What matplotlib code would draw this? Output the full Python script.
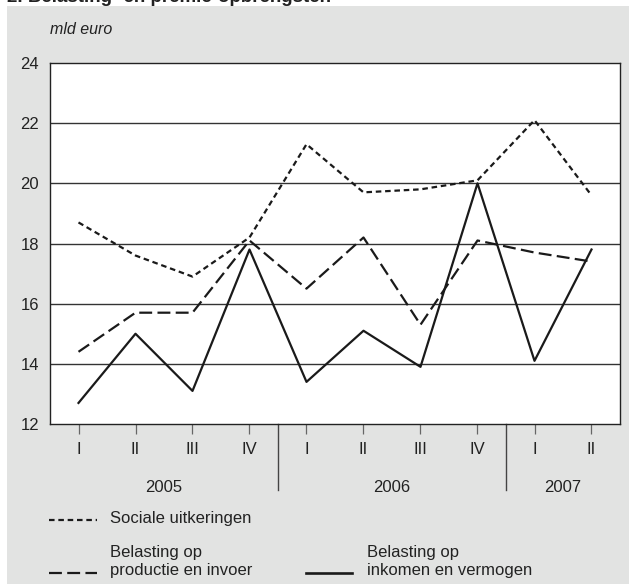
import numpy as np
import matplotlib.pyplot as plt
from matplotlib.lines import Line2D

plt.rcParams['font.family'] = ['Liberation Sans', 'DejaVu Sans']

# data (mld euro, per quarter)
quarters = ["I", "II", "III", "IV", "I", "II", "III", "IV", "I", "II"]
years = ["2005", "2006", "2007"]
year_counts = [4, 4, 2]
sociale = [18.7, 17.6, 16.9, 18.2, 21.3, 19.7, 19.8, 20.1, 22.1, 19.6]
productie = [14.4, 15.7, 15.7, 18.1, 16.5, 18.2, 15.3, 18.1, 17.7, 17.4]
inkomen = [12.7, 15.0, 13.1, 17.8, 13.4, 15.1, 13.9, 20.0, 14.1, 17.8]

W, H = 629, 584
fig = plt.figure(figsize=(W / 100, H / 100), dpi=100)
fig.patch.set_facecolor("white")

def fx(px):
    return px / W

def fy(py):
    return 1 - py / H

LW = 1.6
SHORT = (2.5, 1.7)
LONG = (5.8, 2.4)
lc = "#1a1a1a"
tc = "#222222"

# grey panel
fig.patches.append(plt.Rectangle((fx(7), 0), 1, fy(6), transform=fig.transFigure,
                                 facecolor="#e2e3e2", edgecolor="none", zorder=-5))
fig.text(fx(7), fy(2.5), "2. Belasting- en premie-opbrengsten", fontsize=13.5,
         fontweight="bold", va="baseline", ha="left", color=tc)

ax = fig.add_axes([fx(50), fy(424), fx(620) - fx(50), fy(63) - fy(424)])
ax.set_facecolor("white")
x = np.arange(len(quarters)) + 0.5

ax.plot(x, sociale, color=lc, lw=LW, dashes=SHORT, zorder=3)
ax.plot(x, productie, color=lc, lw=LW, dashes=LONG, zorder=3)
ax.plot(x, inkomen, color=lc, lw=LW, zorder=3)

ax.set_xlim(0, len(quarters))
ax.set_ylim(12, 24)
ax.set_yticks(range(12, 25, 2))
for yv in range(14, 24, 2):
    ax.axhline(yv, color="#333333", lw=1.0, zorder=1)
for s in ax.spines.values():
    s.set_color(tc)
    s.set_linewidth(1.0)
ax.tick_params(axis="y", length=0, labelsize=12, pad=8, colors=tc)
ax.set_xticks(x)
ax.set_xticklabels(quarters)
ax.tick_params(axis="x", length=7, width=0.9, color="#666666", labelsize=12,
               pad=6, labelcolor=tc)

# year separators and labels
trans = ax.get_xaxis_transform()
edges = np.cumsum(year_counts)
start = 0
for yr, end in zip(years, edges):
    if end < len(quarters):
        ax.add_line(Line2D([end, end], [0, -0.183], transform=trans, color="#444444",
                           lw=1.0, clip_on=False))
    ax.text((start + end) / 2, -0.175, yr, transform=trans, ha="center", va="center",
            fontsize=12, color=tc)
    start = end

fig.text(fx(50), fy(30), "mld euro", fontsize=11.5, style="italic", va="center",
         ha="left", color=tc)

# legend
fig.add_artist(Line2D([fx(49), fx(97)], [fy(520), fy(520)], color=lc, lw=LW,
                      dashes=SHORT))
fig.text(fx(110), fy(518), "Sociale uitkeringen", fontsize=12, va="center", color=tc)
fig.add_artist(Line2D([fx(49), fx(97)], [fy(573), fy(573)], color=lc, lw=LW,
                      dashes=LONG))
fig.text(fx(110), fy(552), "Belasting op", fontsize=12, va="center", color=tc)
fig.text(fx(110), fy(570), "productie en invoer", fontsize=12, va="center", color=tc)
fig.add_artist(Line2D([fx(306), fx(352)], [fy(573), fy(573)], color=lc, lw=LW + 0.3))
fig.text(fx(367), fy(552), "Belasting op", fontsize=12, va="center", color=tc)
fig.text(fx(367), fy(570), "inkomen en vermogen", fontsize=12, va="center", color=tc)

fig.savefig("out.png", dpi=100)
